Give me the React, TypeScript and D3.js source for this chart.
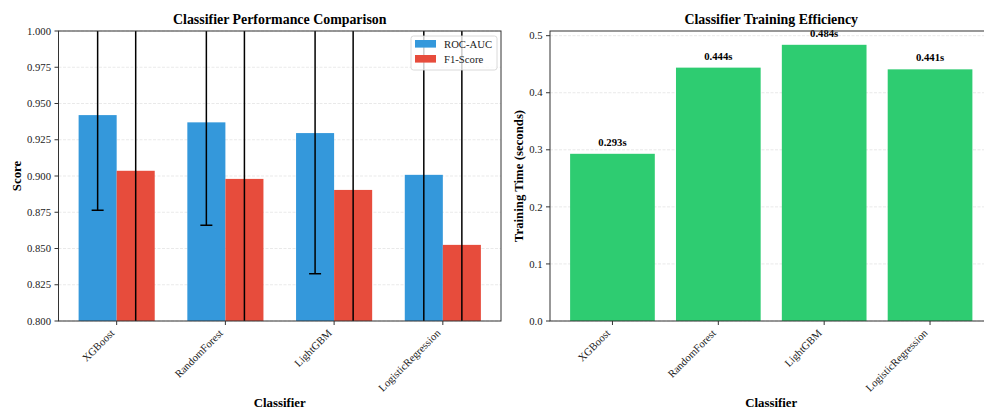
import React from "react";
import * as d3 from "d3";

// Model comparison data
const categories = ["XGBoost", "RandomForest", "LightGBM", "LogisticRegression"];
const rocAuc = [0.942, 0.937, 0.9296, 0.9008];
const rocAucStd = [0.0656, 0.071, 0.097, 0.125];
const f1Score = [0.9036, 0.898, 0.8904, 0.8525];
const f1Std = [0.14, 0.15, 0.16, 0.18];
const trainTime = [0.293, 0.444, 0.484, 0.441];
const scoreTicks = [0.8, 0.825, 0.85, 0.875, 0.9, 0.925, 0.95, 0.975, 1.0];
const timeTicks = [0, 0.1, 0.2, 0.3, 0.4, 0.5];
const seriesNames = ["ROC-AUC", "F1-Score"];

const FONT = "'Liberation Serif', 'Times New Roman', serif";
const BLUE = "#3498db";
const RED = "#e74c3c";
const GREEN = "#2ecc71";
const SPINE = "#333";
const TICK_FS = 10.7;

const TOP = 31;
const BOTTOM = 321;

function XTickLabels({ x, labels }: { x: (i: number) => number; labels: string[] }) {
  const a = 0.7 * TICK_FS;
  const d = 0.22 * TICK_FS;
  const y0 = BOTTOM + 7.5;
  return (
    <g>
      {labels.map((l, i) => {
        const tx = x(i) - 0.707 * d;
        const ty = y0 + 0.707 * a;
        return (
          <g key={l}>
            <line x1={x(i)} x2={x(i)} y1={BOTTOM} y2={BOTTOM + 4} stroke={SPINE} strokeWidth={1} />
            <text
              transform={`translate(${tx},${ty}) rotate(-45)`}
              textAnchor="end"
              fontSize={TICK_FS}
              fill="#222"
            >
              {l}
            </text>
          </g>
        );
      })}
    </g>
  );
}

function YAxis({
  y,
  ticks,
  left,
  right,
  fmt,
}: {
  y: d3.ScaleLinear<number, number>;
  ticks: number[];
  left: number;
  right: number;
  fmt: (v: number) => string;
}) {
  return (
    <g>
      {ticks.map((t) => (
        <g key={t}>
          <line x1={left - 4} x2={left} y1={y(t)} y2={y(t)} stroke={SPINE} strokeWidth={1} />
          <text x={left - 7.5} y={y(t)} dy="0.34em" textAnchor="end" fontSize={TICK_FS} fill="#222">
            {fmt(t)}
          </text>
        </g>
      ))}
    </g>
  );
}

function Grid({ y, ticks, left, right }: { y: d3.ScaleLinear<number, number>; ticks: number[]; left: number; right: number }) {
  return (
    <g>
      {ticks.map((t) => (
        <line
          key={t}
          x1={left}
          x2={right}
          y1={y(t)}
          y2={y(t)}
          stroke="#b0b0b0"
          strokeOpacity={0.35}
          strokeWidth={0.8}
          strokeDasharray="3,1.5"
        />
      ))}
    </g>
  );
}

function Spines({ left, right }: { left: number; right: number }) {
  return (
    <rect x={left} y={TOP} width={right - left} height={BOTTOM - TOP} fill="none" stroke={SPINE} strokeWidth={1} />
  );
}

export default function App() {
  // Left panel: performance scores
  const L0 = 58.5;
  const L1 = 501;
  const barW = 0.35;
  const xL = d3.scaleLinear().domain([-0.535, 3.535]).range([L0, L1]);
  const yL = d3.scaleLinear().domain([0.8, 1.0]).range([BOTTOM, TOP]);
  const bw = xL(barW) - xL(0);

  // Right panel: training time
  const R0 = 550;
  const R1 = 992.5;
  const xR = d3.scaleLinear().domain([-0.59, 3.59]).range([R0, R1]);
  const yR = d3.scaleLinear().domain([0, d3.max(trainTime)! * 1.05]).range([BOTTOM, TOP]);
  const gw = xR(0.8) - xR(0);

  const series = [
    { name: seriesNames[0], vals: rocAuc, err: rocAucStd, color: BLUE, off: -barW / 2 },
    { name: seriesNames[1], vals: f1Score, err: f1Std, color: RED, off: barW / 2 },
  ];

  return (
    <svg
      width={984}
      height={409}
      style={{ position: "absolute", left: 0, top: 0, background: "#fff" }}
      fontFamily={FONT}
    >
      <defs>
        <clipPath id="clipL">
          <rect x={L0} y={TOP} width={L1 - L0} height={BOTTOM - TOP} />
        </clipPath>
        <clipPath id="clipR">
          <rect x={R0} y={TOP} width={R1 - R0} height={BOTTOM - TOP} />
        </clipPath>
      </defs>
      <rect width={984} height={409} fill="#fff" />

      {/* ---------- Performance comparison ---------- */}
      <Grid y={yL} ticks={scoreTicks} left={L0} right={L1} />
      <g clipPath="url(#clipL)">
        {series.map((s) =>
          s.vals.map((v, i) => (
            <rect
              key={s.name + i}
              x={xL(i + s.off) - bw / 2}
              y={yL(v)}
              width={bw}
              height={yL(0.8) - yL(v)}
              fill={s.color}
            />
          ))
        )}
        {series.map((s) =>
          s.vals.map((v, i) => {
            const cx = xL(i + s.off);
            const lo = yL(v - s.err[i]);
            const hi = yL(v + s.err[i]);
            return (
              <g key={"e" + s.name + i} stroke="#000" strokeWidth={1.5}>
                <line x1={cx} x2={cx} y1={lo} y2={hi} />
                <line x1={cx - 6} x2={cx + 6} y1={lo} y2={lo} />
                <line x1={cx - 6} x2={cx + 6} y1={hi} y2={hi} />
              </g>
            );
          })
        )}
      </g>
      <Spines left={L0} right={L1} />
      <YAxis y={yL} ticks={scoreTicks} left={L0} right={L1} fmt={d3.format(".3f")} />
      <XTickLabels x={(i) => xL(i)} labels={categories} />
      <text x={(L0 + L1) / 2} y={24} textAnchor="middle" fontSize={13.9} fontWeight="bold" fill="#000">
        Classifier Performance Comparison
      </text>
      <text
        transform={`translate(${20.5},${(TOP + BOTTOM) / 2}) rotate(-90)`}
        textAnchor="middle"
        fontSize={12.8}
        fontWeight="bold"
        fill="#000"
      >
        Score
      </text>
      <text x={(L0 + L1) / 2} y={406.5} textAnchor="middle" fontSize={12.8} fontWeight="bold" fill="#000">
        Classifier
      </text>

      {/* Legend */}
      <g>
        <rect x={411} y={36} width={86} height={34} rx={2.5} fill="#fff" fillOpacity={0.8} stroke="#d0d0d0" strokeWidth={0.8} />
        {series.map((s, k) => (
          <g key={"lg" + s.name}>
            <rect x={415} y={40 + k * 15} width={21} height={7.6} fill={s.color} />
            <text x={444} y={47.7 + k * 15} fontSize={TICK_FS} fill="#222">
              {s.name}
            </text>
          </g>
        ))}
      </g>

      {/* ---------- Training time ---------- */}
      <Grid y={yR} ticks={timeTicks} left={R0} right={R1} />
      <g clipPath="url(#clipR)">
        {trainTime.map((v, i) => (
          <rect key={"t" + i} x={xR(i) - gw / 2} y={yR(v)} width={gw} height={yR(0) - yR(v)} fill={GREEN} />
        ))}
      </g>
      {trainTime.map((v, i) => (
        <text
          key={"tl" + i}
          x={xR(i)}
          y={yR(v + 0.01) - 0.22 * TICK_FS}
          textAnchor="middle"
          fontSize={TICK_FS}
          fontWeight="bold"
          fill="#000"
        >
          {v.toFixed(3)}s
        </text>
      ))}
      <Spines left={R0} right={R1} />
      <YAxis y={yR} ticks={timeTicks} left={R0} right={R1} fmt={d3.format(".1f")} />
      <XTickLabels x={(i) => xR(i)} labels={categories} />
      <text x={(R0 + R1) / 2} y={24} textAnchor="middle" fontSize={13.9} fontWeight="bold" fill="#000">
        Classifier Training Efficiency
      </text>
      <text
        transform={`translate(${522.5},${(TOP + BOTTOM) / 2}) rotate(-90)`}
        textAnchor="middle"
        fontSize={12.8}
        fontWeight="bold"
        fill="#000"
      >
        Training Time (seconds)
      </text>
      <text x={(R0 + R1) / 2} y={406.5} textAnchor="middle" fontSize={12.8} fontWeight="bold" fill="#000">
        Classifier
      </text>
    </svg>
  );
}
